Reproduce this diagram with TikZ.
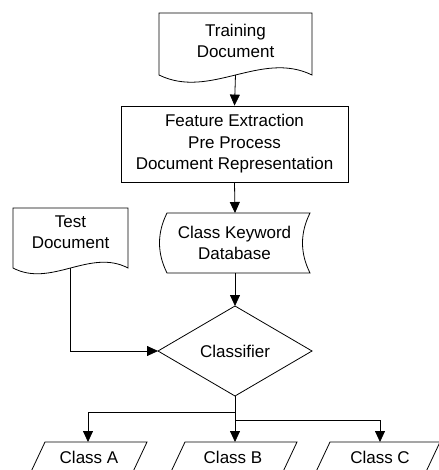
\documentclass[tikz,border=0pt]{standalone}
\usepackage{fontspec}
\setmainfont{Liberation Sans}
\usetikzlibrary{arrows.meta,shapes.geometric}
\begin{document}
\begin{tikzpicture}[x=1pt,y=-1pt,
  shp/.style={draw=black,line width=0.8pt},
  lbl/.style={font=\fontsize{17}{21.5}\selectfont,align=center,inner sep=0pt},
  arr/.style={draw=black,line width=0.8pt,-{Triangle[length=11pt,width=10pt]}},
  ln/.style={draw=black,line width=0.8pt}]
\useasboundingbox (0,0) rectangle (438,470);
% Training document
\draw[shp] (159,75) -- (159,13) -- (312,13) -- (312,75) .. controls (261,50) and (210,100) .. (159,75) -- cycle;
\node[lbl] (train) at (235.5,41) {Training\\Document};
\coordinate (trainb) at (235.5,75);
% Process
\node[shp,lbl,minimum width=227pt,minimum height=76pt] (proc) at (234.5,144) {Feature Extraction\\Pre Process\\Document Representation};
% Database
\draw[shp] (167,213) -- (310,213) .. controls (300,233) and (300,253) .. (310,273) -- (167,273) .. controls (157,253) and (157,233) .. (167,213) -- cycle;
\node[lbl] (db) at (234.5,243) {Class Keyword\\Database};
\coordinate (dbt) at (235,213);
\coordinate (dbb) at (235,273);
% Test document
\draw[shp] (13,268) -- (13,208) -- (128,208) -- (128,268) .. controls (90,248) and (51,288) .. (13,268) -- cycle;
\node[lbl] (test) at (70.5,232) {Test\\Document};
\coordinate (testb) at (70.5,268);
% Classifier
\node[shp,diamond,minimum width=154pt,minimum height=90pt,inner sep=0pt,outer sep=0pt,font=\fontsize{17}{21.5}\selectfont] (cls) at (235,351) {Classifier};
% Outputs
\draw[shp] (45,442) -- (147,442) -- (131,476) -- (29,476) -- cycle;
\draw[shp] (185,442) -- (297,442) -- (281,476) -- (169,476) -- cycle;
\draw[shp] (330,442) -- (440,442) -- (424,476) -- (314,476) -- cycle;
\node[lbl] (ca) at (89,457) {Class A};
\node[lbl] (cb) at (233,457) {Class B};
\node[lbl] (cc) at (380,457) {Class C};
\coordinate (aT) at (88,442);
\coordinate (bT) at (235,442);
\coordinate (cT) at (380,442);
\coordinate (j1) at (235,412);
\coordinate (j2) at (235,420);
% Connectors
\draw[arr] (trainb) -- (proc.north);
\draw[arr] (proc.south) -- (dbt);
\draw[arr] (dbb) -- (cls.north);
\draw[arr] (testb) |- (cls.west);
\draw[arr] (cls.south) -- (bT);
\draw[arr] (j1) -| (aT);
\draw[arr] (j2) -| (cT);
\end{tikzpicture}
\end{document}
